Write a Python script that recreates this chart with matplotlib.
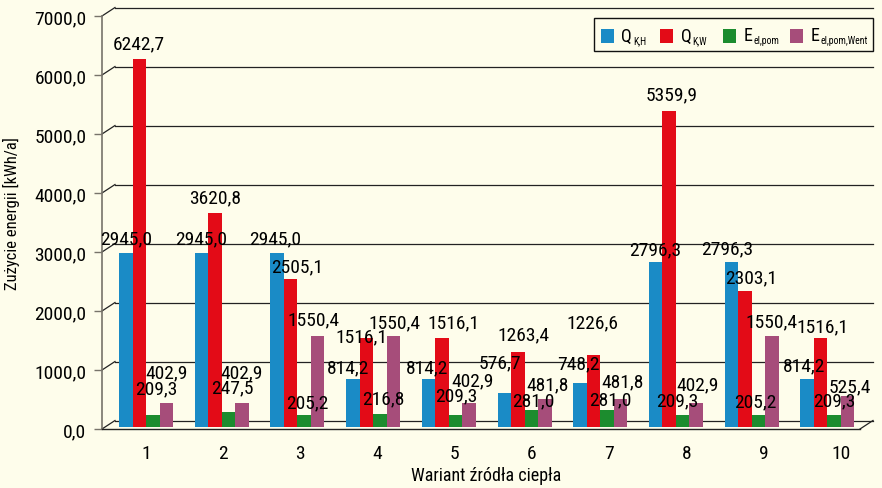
import matplotlib
matplotlib.use("Agg")
import matplotlib.pyplot as plt
from matplotlib.patches import Rectangle
import numpy as np


# --- Data ---

variants = ["1", "2", "3", "4", "5", "6", "7", "8", "9", "10"]

q_kh = [2945.0, 2945.0, 2945.0, 814.2, 814.2, 576.7, 748.2, 2796.3, 2796.3, 814.2]
q_kw = [6242.7, 3620.8, 2505.1, 1516.1, 1516.1, 1263.4, 1226.6, 5359.9, 2303.1, 1516.1]
e_el_pom = [209.3, 247.5, 205.2, 216.8, 209.3, 281.0, 281.0, 209.3, 205.2, 209.3]
e_el_pom_went = [402.9, 402.9, 1550.4, 1550.4, 402.9, 481.8, 481.8, 402.9, 1550.4, 525.4]

# legend: main letter + subscript
series_main = ["Q", "Q", "E", "E"]
series_sub = ["K,H", "K,W", "el,pom", "el,pom,Went"]

y_ticks = [0, 1000, 2000, 3000, 4000, 5000, 6000, 7000]
y_tick_labels = ["0,0", "1000,0", "2000,0", "3000,0", "4000,0", "5000,0", "6000,0", "7000,0"]


# --- Label placement (pixel offsets of each value label from its bar top) ---

label_dy = [
    [15, 15, 15, 12, 12, 31, 19, 13, 14, 14],
    [15, 16, 13, 1, 15, 18, 32, 16, 14, 11],
    [26, 25, 13, 16, 19, 10, 11, 14, 14, 14],
    [31, 31, 16, 13, 23, 14, 17, 19, 14, 10],
]
label_dx = [
    [0, 0, -2, -5, -1, -4, -2, 0, -4, -3],
    [0, 0, 6, -5, 11, 6, -1, 2, 6, 2],
    [4, 4, 3, 3, 1, 2, 3, -5, -3, 0],
    [0, 0, -4, 1, 4, 3, 2, 1, 0, 2],
]


# --- Style ---

bg = "#fefdeb"
colors = ["#1a8bc6", "#e30b17", "#1c8c2e", "#a64d7a"]

plt.rcParams["font.family"] = ["Roboto Condensed", "DejaVu Sans"]

W, H = 882, 489
fig = plt.figure(figsize=(W / 100, H / 100), dpi=100, facecolor=bg)

ax_l, ax_r, ax_b, ax_t = 102, 860, 430, 17
ax = fig.add_axes([ax_l / W, (H - ax_b) / H, (ax_r - ax_l) / W, (ax_b - ax_t) / H])
ax.set_facecolor("none")

pitch = 75.7
xmin = 1 - (146 - ax_l) / pitch
xmax = 1 + (ax_r - 146) / pitch
ymax = 7000
ax.set_xlim(xmin, xmax)
ax.set_ylim(0, ymax)

# depth offset of the back wall (pixels -> data)
dx = 13 / (ax_r - ax_l) * (xmax - xmin)
dy = 8.5 / (ax_b - ax_t) * ymax
# bars stand on the floor, slightly behind the front edge
floor = 2 / (ax_b - ax_t) * ymax


# --- Back wall grid ---

for v in y_ticks:
    ax.plot([xmin, xmin + dx], [v, v + dy], color="#222222", lw=0.9, zorder=1, clip_on=False)
    ax.plot([xmin + dx, xmax + dx], [v + dy, v + dy], color="#222222", lw=0.9, zorder=1, clip_on=False)
ax.plot([xmax, xmax + dx], [0, dy], color="#222222", lw=0.9, zorder=1, clip_on=False)


# --- Bars and labels ---

x = np.arange(1, len(variants) + 1)
width = 13.5 / pitch
all_series = [q_kh, q_kw, e_el_pom, e_el_pom_went]

for i, (vals, c) in enumerate(zip(all_series, colors)):
    xs = x + (i - 1.5) * width
    ax.bar(xs, vals, width, bottom=floor, color=c, zorder=3)
    for j, (xi, v) in enumerate(zip(xs, vals)):
        ax.annotate(f"{v:.1f}".replace(".", ","), (xi, v + floor),
                    xytext=(label_dx[i][j], label_dy[i][j]),
                    textcoords="offset pixels", ha="center", va="center",
                    fontsize=14, zorder=5, annotation_clip=False)


# --- Axes ---

ax.spines["top"].set_visible(False)
ax.spines["right"].set_visible(False)
ax.spines["left"].set_color("#77736a")
ax.spines["left"].set_linewidth(1.2)
ax.spines["bottom"].set_color("#222222")
ax.spines["bottom"].set_linewidth(1.0)

ax.set_yticks(y_ticks)
ax.set_yticklabels(y_tick_labels)
ax.tick_params(axis="y", length=5.8, width=1.0, color="#77736a", pad=5.5, labelsize=14)

# category labels sit on the front edge, spaced a bit wider than the bars
ax.set_xticks(1 + (x - 1) * 77.2 / pitch)
ax.set_xticklabels(variants)
ax.tick_params(axis="x", length=0, pad=10.5, labelsize=14)

fig.text(11 / W, 1 - 214 / H, "Zużycie energii [kWh/a]", rotation=90,
         ha="center", va="center", fontsize=12)
fig.text(486 / W, 1 - 476 / H, "Wariant źródła ciepła", ha="center", va="center",
         fontsize=13)


# --- Legend (drawn by hand to get the small subscripts) ---

def fx(px):
    return px / W


def fy(py):
    return 1 - py / H


fig.add_artist(Rectangle((fx(594), fy(52)), fx(873) - fx(594), fy(19) - fy(52),
                         transform=fig.transFigure, facecolor=bg,
                         edgecolor="#111111", lw=1.0, zorder=10))

entry_x = [600.5, 659.5, 723, 790]
for ex, c, main, sub in zip(entry_x, colors, series_main, series_sub):
    fig.add_artist(Rectangle((fx(ex), fy(43.5)), fx(13), 14 / H,
                             transform=fig.transFigure, facecolor=c,
                             edgecolor="none", zorder=11))
    t = fig.text(fx(ex + 21), fy(36.5), main, ha="left", va="center",
                 fontsize=13, zorder=12)
    fig.canvas.draw()
    bb = t.get_window_extent()
    fig.text(bb.x1 / W + fx(1), fy(41), sub, ha="left", va="center",
             fontsize=7, zorder=12)

fig.savefig("out.png", dpi=100, facecolor=bg)
